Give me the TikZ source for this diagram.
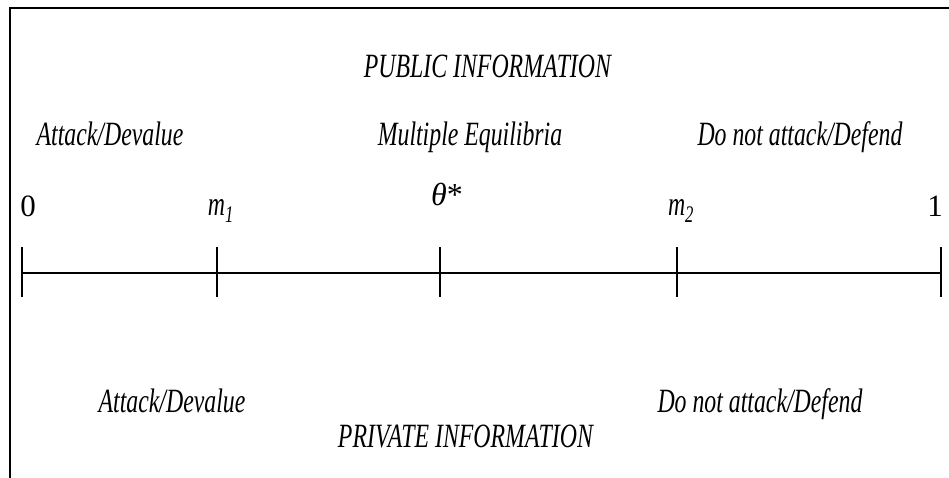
\documentclass[tikz,border=0pt]{standalone}
\usepackage{fontspec}
\setmainfont{Liberation Serif}[FakeStretch=0.70]
\newfontfamily\numfont{Liberation Serif}
\usetikzlibrary{positioning}
\newcommand{\regime}[1]{\textit{#1}}

\begin{document}
\begin{tikzpicture}[x=1pt,y=1pt,font=\fontsize{34}{38}\selectfont]
  \useasboundingbox (0,0) rectangle (949,-478);
  \draw[line width=1.5pt] (949,-8) -- (10,-8) -- (10,-478) ;   %Frame

  \draw[line width=1.4pt] (22,-273) -- (941,-273) ;           %Draw state axis
  \foreach \tx in {22,217,440,677,941}
    \draw[line width=1.2pt] (\tx,-247) -- (\tx,-297) ;        %Ticks

  \node[anchor=base] (pub) at (488,-78) {\regime{PUBLIC INFORMATION}};
  \node[anchor=base] (atkpub) at (110,-146) {\regime{Attack/Devalue}};
  \node[anchor=base] (multi) at (470,-146) {\regime{Multiple Equilibria}};
  \node[anchor=base] (defpub) at (800,-146) {\regime{Do not attack/Defend}};

  \node[anchor=base] (zero) at (28,-216) {\numfont\fontsize{31}{34}\selectfont 0};
  \node[anchor=base] (mone) at (221,-215) {\regime{m\textsubscript{1}}};
  \node[anchor=base] (theta) at (447,-206) {\numfont\fontsize{32}{34}\selectfont\textit{θ}*};
  \node[anchor=base] (mtwo) at (681,-215) {\regime{m\textsubscript{2}}};
  \node[anchor=base] (one) at (935,-216) {\numfont\fontsize{31}{34}\selectfont 1};

  \node[anchor=base] (atkpriv) at (172,-412) {\regime{Attack/Devalue}};
  \node[anchor=base] (defpriv) at (760,-412) {\regime{Do not attack/Defend}};
  \node[anchor=base] (priv) at (466,-447) {\regime{PRIVATE INFORMATION}};
\end{tikzpicture}
\end{document}
